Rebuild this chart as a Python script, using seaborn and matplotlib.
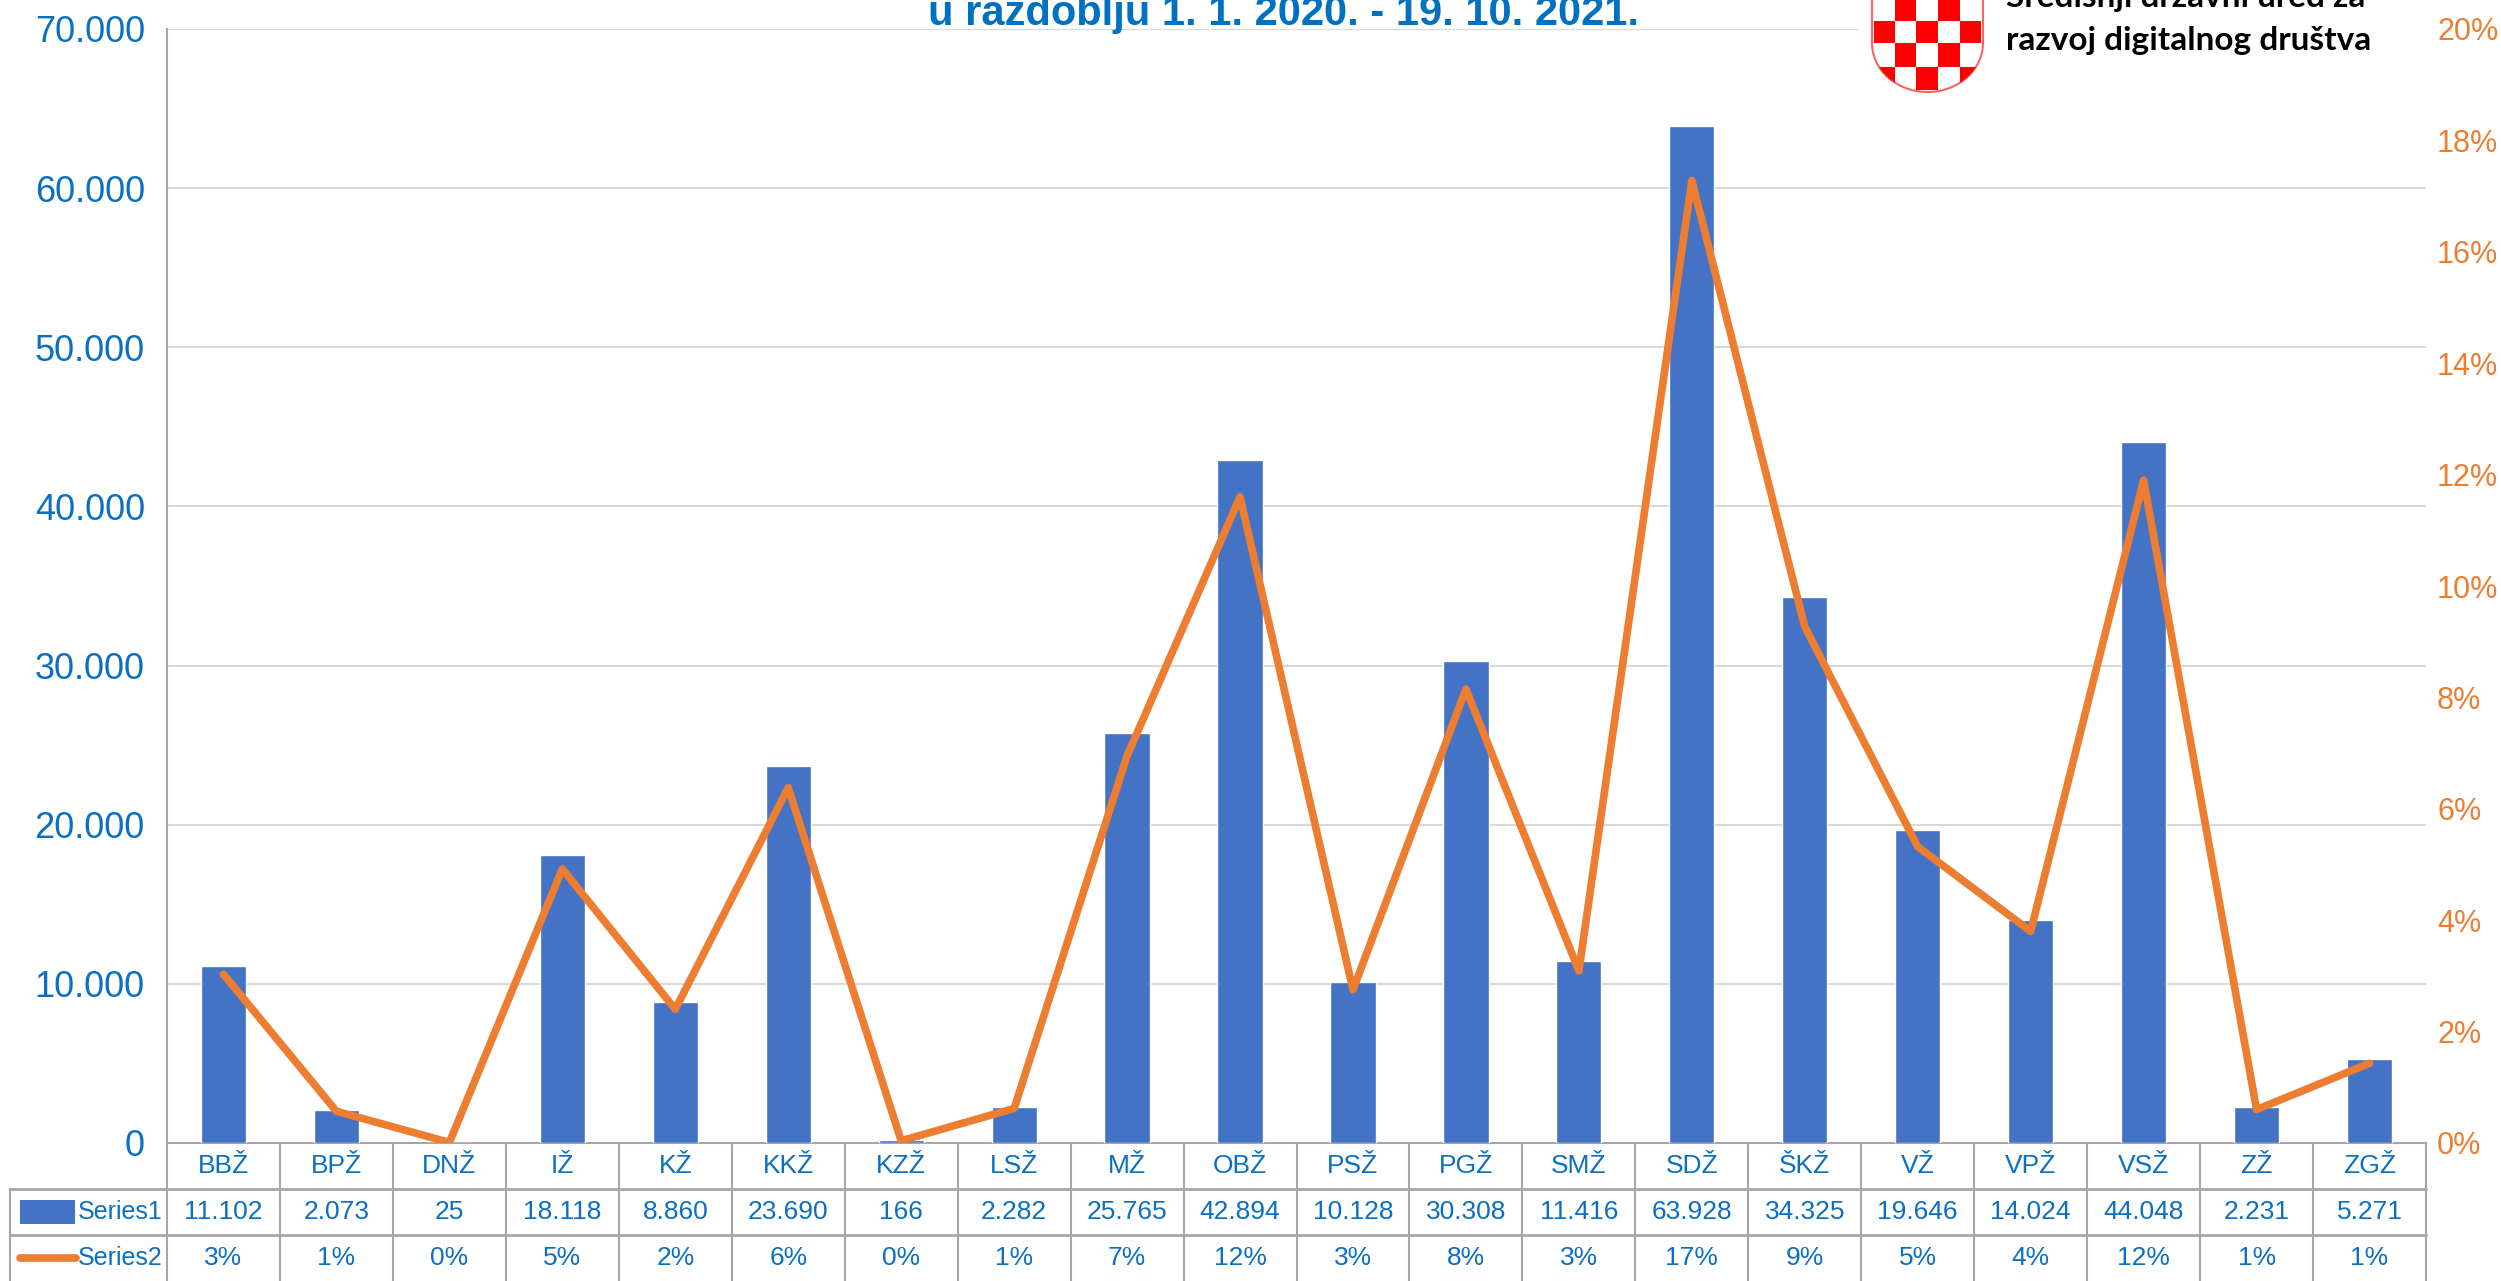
import numpy as np
import pandas as pd
import matplotlib
matplotlib.use("Agg")
import matplotlib.pyplot as plt
import matplotlib.transforms as mtransforms
from matplotlib.lines import Line2D
from matplotlib.patches import Rectangle, PathPatch
from matplotlib.path import Path
import seaborn as sns

# data
regions = ['BBŽ', 'BPŽ', 'DNŽ', 'IŽ', 'KŽ', 'KKŽ', 'KZŽ', 'LSŽ', 'MŽ', 'OBŽ',
           'PSŽ', 'PGŽ', 'SMŽ', 'SDŽ', 'ŠKŽ', 'VŽ', 'VPŽ', 'VSŽ', 'ZŽ', 'ZGŽ']
series1 = [11102, 2073, 25, 18118, 8860, 23690, 166, 2282, 25765, 42894,
           10128, 30308, 11416, 63928, 34325, 19646, 14024, 44048, 2231, 5271]
series2 = [3.03, 0.57, 0.01, 4.92, 2.40, 6.38, 0.04, 0.62, 6.95, 11.60,
           2.75, 8.15, 3.09, 17.28, 9.27, 5.32, 3.80, 11.90, 0.60, 1.43]
series2_labels = ['3%', '1%', '0%', '5%', '2%', '6%', '0%', '1%', '7%', '12%',
                  '3%', '8%', '3%', '17%', '9%', '5%', '4%', '12%', '1%', '1%']
title_line = 'u razdoblju 1. 1. 2020. - 19. 10. 2021.'
org_lines = ['Središnji državni ured za', 'razvoj digitalnog društva']

df = pd.DataFrame({'region': regions, 'series1': series1, 'series2': series2})

sns.set_style('white')
plt.rcParams['font.family'] = ['Liberation Sans', 'DejaVu Sans']

blue_txt = '#0B6FC2'
orange = '#ED7D31'
bar_col = '#4472C4'
grid_col = '#D9D9D9'
tab_col = '#A6A6A6'

W, H = 2501, 1281
fig = plt.figure(figsize=(W / 100, H / 100), dpi=100)
L, R = 167 / W, 2426 / W
B, T = (H - 1143) / H, (H - 29) / H
ax = fig.add_axes([L, B, R - L, T - B])

sns.barplot(data=df, x='region', y='series1', color=bar_col, saturation=1,
            width=0.4, ax=ax, zorder=3)
ax.set_xlim(-0.5, len(regions) - 0.5)
ax.set_ylim(0, 70000)
ax.set_yticks(np.arange(0, 70001, 10000))
ax.set_yticklabels([f'{v:,.0f}'.replace(',', '.') for v in np.arange(0, 70001, 10000)])
ax.set_xticks([])
ax.set_xlabel('')
ax.set_ylabel('')
ax.yaxis.grid(True, color=grid_col, lw=1.5, zorder=0)
ax.set_axisbelow(True)
ax.tick_params(axis='y', length=0, pad=16, labelsize=26, labelcolor=blue_txt)
for s in ['top', 'right']:
    ax.spines[s].set_visible(False)
for s in ['left', 'bottom']:
    ax.spines[s].set_color(tab_col)
    ax.spines[s].set_linewidth(1.5)

ax2 = ax.twinx()
sns.lineplot(x=np.arange(len(regions)), y=df['series2'] / 100, ax=ax2,
             color=orange, lw=5.5, sort=False, zorder=4)
ax2.set_ylim(0, 0.20)
ax2.set_yticks(np.arange(0, 0.2001, 0.02))
ax2.set_yticklabels([f'{v * 100:.0f}%' for v in np.arange(0, 0.2001, 0.02)])
ax2.tick_params(axis='y', length=0, pad=8, labelsize=22, labelcolor=orange)
ax2.set_ylabel('')
for s in ax2.spines.values():
    s.set_visible(False)
ax2.set_xlim(-0.5, len(regions) - 0.5)

# data table under the chart
rh = 46 / 1114
trans = mtransforms.blended_transform_factory(ax.transData, ax.transAxes)
for i in range(len(regions) + 1):
    ax.plot([i - 0.5, i - 0.5], [0, -3 * rh], transform=trans, color=tab_col,
            lw=1.5, clip_on=False)
for i, reg in enumerate(regions):
    ax.text(i, -0.5 * rh, reg, transform=trans, ha='center', va='center',
            fontsize=19, color=blue_txt)
    ax.text(i, -1.5 * rh, f'{series1[i]:,}'.replace(',', '.'), transform=trans,
            ha='center', va='center', fontsize=19, color=blue_txt)
    ax.text(i, -2.5 * rh, series2_labels[i], transform=trans, ha='center',
            va='center', fontsize=19, color=blue_txt)

x0 = 10 / W
for ypx in [1189, 1235]:
    fig.add_artist(Line2D([x0, R], [(H - ypx) / H] * 2, color=tab_col, lw=2))
fig.add_artist(Line2D([x0, x0], [(H - 1189) / H, 0], color=tab_col, lw=1.5))
fig.add_artist(Rectangle((20 / W, (H - 1224) / H), 55 / W, 24 / H,
                         color=bar_col, lw=0))
fig.add_artist(Line2D([20 / W, 76 / W], [(H - 1258) / H] * 2, color=orange,
                      lw=5.5, solid_capstyle='round'))
fig.text(78 / W, (H - 1212) / H, 'Series1', fontsize=18, color=blue_txt, va='center')
fig.text(78 / W, (H - 1258) / H, 'Series2', fontsize=18, color=blue_txt, va='center')

# title, cut at the top edge like the source
fig.text(1283 / W, (H - 25) / H, title_line, ha='center', va='baseline',
         fontsize=30, fontweight='bold', color='#0070C0')

# logo block
fig.add_artist(Rectangle((1858 / W, (H - 100) / H), (2430 - 1858) / W, 100 / H,
                         color='white', lw=0, zorder=5))
lax = fig.add_axes([1868 / W, (H - 96) / H, 120 / W, 96 / H], zorder=6)
lax.set_xlim(1868, 1988)
lax.set_ylim(96, 0)
lax.axis('off')
sx0, sx1, sbot, scurve = 1872, 1983, 92, 43
cx, rx, ry = (sx0 + sx1) / 2, (sx1 - sx0) / 2, sbot - scurve
t = np.linspace(np.pi, 0, 60)
verts = [(sx0, -20), (sx0, scurve)] + [(cx + rx * np.cos(a), scurve + ry * np.sin(a)) for a in t] + [(sx1, -20), (sx0, -20)]
shield = Path(verts)
edge = PathPatch(shield, facecolor='white', edgecolor='#FF6060', lw=1.5, zorder=1)
lax.add_patch(edge)
col_edges = [1874, 1895, 1916, 1938, 1960, 1981]
row_edges = [-25, -2, 21, 43, 67, 90]
for r in range(len(row_edges) - 1):
    for c in range(len(col_edges) - 1):
        if (r + c) % 2 == 0:
            sq = Rectangle((col_edges[c], row_edges[r]), col_edges[c + 1] - col_edges[c],
                           row_edges[r + 1] - row_edges[r], color='#FF0000', lw=0, zorder=2)
            lax.add_patch(sq)
            sq.set_clip_path(edge)

for k, ypx in enumerate([7, 50]):
    fig.text(2006 / W, (H - ypx) / H, org_lines[k], fontsize=24, fontweight='bold',
             color='black', va='baseline', family=['Lato', 'DejaVu Sans'], zorder=7)

fig.savefig('out.png', dpi=100)
